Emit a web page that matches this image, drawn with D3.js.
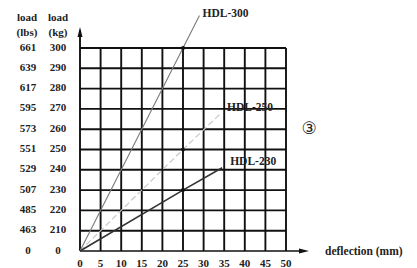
<!DOCTYPE html>
<html><head><meta charset="utf-8">
<script src="https://cdn.jsdelivr.net/npm/d3@7"></script>
<style>html,body{margin:0;padding:0;background:#fff;}svg{display:block;} text{font-family:"Times New Roman","Liberation Serif","DejaVu Serif",serif;}</style>
</head><body>
<svg id="c" width="417" height="268"></svg>
<script>
const kgTicks = [0,210,220,230,240,250,260,270,280,290,300];
const lbsTicks = ["0","463","485","507","529","551","573","595","617","639","661"];
const xTicks = [0,5,10,15,20,25,30,35,40,45,50];
const seriesNames = ["HDL-300","HDL-250","HDL-230"];
const seriesDefl = [[0,25,29],[0,25,34],[0,25,34.5]];
const seriesLoad = [[0,300,316],[0,250,267.5],[0,230,241]];
const markerDefl = [25,25,25];
const markerLoad = [300,250,230];

const svg = d3.select("#c");
const x = d3.scaleLinear().domain([0,50]).range([80,286]);
const y = d3.scaleLinear().domain([0,210,300]).range([251,230.7,48]);

// grid
const g = svg.append("g").attr("stroke","#111").attr("stroke-width",1.9);
kgTicks.filter(v=>v>0).forEach(v=>{
  g.append("line").attr("x1",x(0)).attr("x2",x(50)).attr("y1",y(v)).attr("y2",y(v));
});
xTicks.filter(v=>v>0).forEach(v=>{
  g.append("line").attr("x1",x(v)).attr("x2",x(v)).attr("y1",y(0)).attr("y2",y(300));
});
// axes
svg.append("line").attr("x1",x(0)).attr("x2",x(0)).attr("y1",y(0)).attr("y2",30).attr("stroke","#111").attr("stroke-width",1.9);
svg.append("line").attr("x1",x(0)).attr("x2",303).attr("y1",y(0)).attr("y2",y(0)).attr("stroke","#111").attr("stroke-width",1.5);
svg.append("path").attr("d",`M${x(0)},27 L${x(0)-2.5},37 L${x(0)+2.5},37 Z`).attr("fill","#111");
svg.append("path").attr("d",`M309,${y(0)} L299,${y(0)-2.5} L299,${y(0)+2.5} Z`).attr("fill","#111");

// series lines
const styles = [
  {stroke:"#7a7a7a", w:1.1, dash:null, dx:3, dy:-1},
  {stroke:"#c4c4c4", w:1.1, dash:"6,3", dx:7, dy:-6},
  {stroke:"#333", w:1.6, dash:null, dx:8, dy:-5}
];
const line = d3.line().x(d=>x(d[0])).y(d=>y(d[1]));
seriesNames.forEach((n,i)=>{
  const pts = seriesDefl[i].map((d,j)=>[d, seriesLoad[i][j]]);
  const p = svg.append("path").attr("d",line(pts)).attr("fill","none")
    .attr("stroke",styles[i].stroke).attr("stroke-width",styles[i].w);
  if(styles[i].dash) p.attr("stroke-dasharray",styles[i].dash);
  svg.append("circle").attr("cx",x(markerDefl[i])).attr("cy",y(markerLoad[i])).attr("r",2).attr("fill","#111");
  const last = pts[pts.length-1];
  svg.append("text").attr("x",x(last[0])+styles[i].dx).attr("y",y(last[1])+styles[i].dy)
    .attr("dominant-baseline","middle").attr("font-weight","bold")
    .attr("font-size",11.5).attr("fill","#222").text(n);
});

// y tick labels
const tl = svg.append("g").attr("font-weight","bold").attr("font-size",11).attr("fill","#222").attr("text-anchor","middle");
kgTicks.forEach((v,i)=>{
  tl.append("text").attr("x",28).attr("y",y(v)).attr("dominant-baseline","middle").text(lbsTicks[i]);
  tl.append("text").attr("x",58).attr("y",y(v)).attr("dominant-baseline","middle").text(v);
});
tl.append("text").attr("x",27).attr("y",18).attr("dominant-baseline","middle").text("load");
tl.append("text").attr("x",58).attr("y",18).attr("dominant-baseline","middle").text("load");
tl.append("text").attr("x",27).attr("y",33).attr("dominant-baseline","middle").text("(lbs)");
tl.append("text").attr("x",58).attr("y",33).attr("dominant-baseline","middle").text("(kg)");
// x tick labels
xTicks.forEach(v=>{
  tl.append("text").attr("x",x(v)).attr("y",264).attr("dominant-baseline","middle").text(v);
});
svg.append("text").attr("x",325).attr("y",252).attr("dominant-baseline","middle")
  .attr("font-weight","bold").attr("font-size",11.5).attr("fill","#222").text("deflection (mm)");
svg.append("text").attr("x",309).attr("y",129).attr("dominant-baseline","middle").attr("text-anchor","middle")
  .style("font-family","DejaVu Sans, sans-serif").attr("font-size",17).attr("fill","#222").text("③");
</script>
</body></html>
